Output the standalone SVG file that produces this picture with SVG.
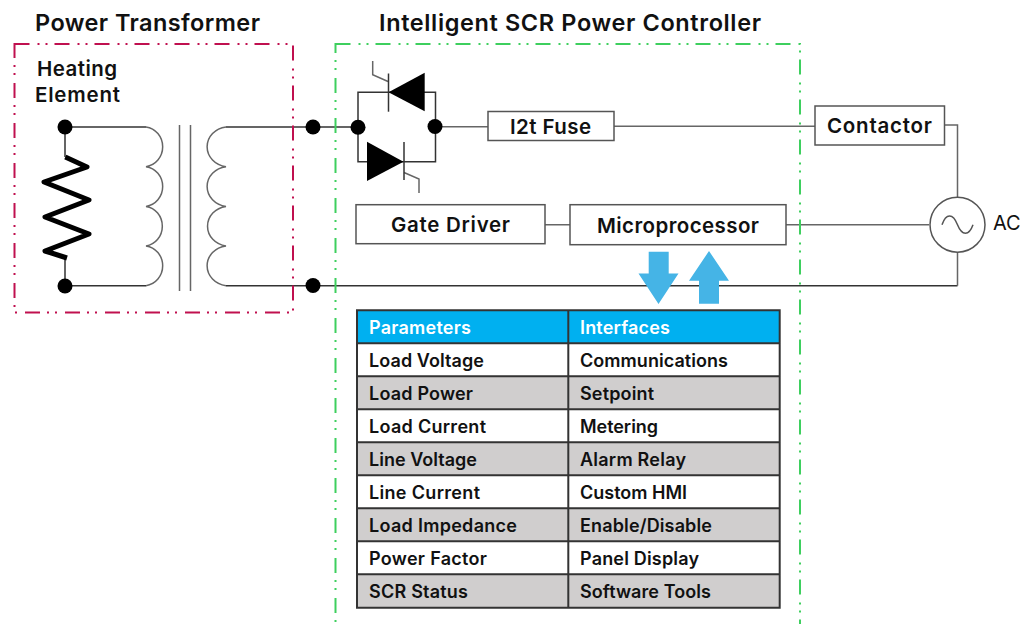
<svg xmlns="http://www.w3.org/2000/svg" width="1032" height="624" viewBox="0 0 1032 624">
<style>
text{font-family:Inter,"Liberation Sans",Arial,sans-serif;font-weight:600;fill:#111}
.t{font-size:23.5px}
.n{font-size:20.5px}
.c{font-size:18px}
.h{fill:#fff}
.w{fill:none;stroke:#333;stroke-width:1.5}
.g{fill:none;stroke:#666;stroke-width:1.5}
.b{fill:#fff;stroke:#555;stroke-width:1.5}
.d{fill:#000}
.ar{fill:#45b4e6}
.grid{fill:none;stroke:#333;stroke-width:2}
</style>
<rect width="1032" height="624" fill="#fff"/>
<g id="connectors">
<path class="w" d="M65 127H146"/>
<path class="g" d="M146 127A19 20 0 0 1 146 166.7A19 20 0 0 1 146 206.4A19 20 0 0 1 146 246A19 20 0 0 1 146 285.7"/>
<path class="w" d="M146 285.7H65V258M65 157V127"/>
<path class="g" d="M179.500 125V291M190.500 125V291" stroke-width="1.2"/>
<path class="g" d="M226 127A21.500 20 0 0 0 226 166.7A21.500 20 0 0 0 226 206.4A21.500 20 0 0 0 226 246A21.500 20 0 0 0 226 285.7"/>
<path class="w" d="M226 127H358M226 285.700H957.500"/>
<path class="g" d="M957.500 285.700V252M957.500 197V125H944M435 126.700H488M614 126.300H815M545 224.700H570M786 224.700H929"/>
<path class="w" d="M358 127V92.300H435.500V161.700H358V127"/>
<path class="g" d="M388 81.500L372.700 74.700V61M404 172.500L419 179V193"/>
</g>
<g id="power-transformer">
<rect x="14.500" y="44" width="278.500" height="268.500" fill="none" stroke="#c0104f" stroke-width="2" stroke-dasharray="15 8 2 6 2 7"/>
<text class="t" x="35" y="31" textLength="225">Power Transformer</text>
<text class="n" x="37" y="76" textLength="80">Heating</text>
<text class="n" x="35" y="102" textLength="85">Element</text>
</g>
<g id="heating-element">
<path d="M65.300 157L87 167L44 182L89 200L45 217L89 234L45 251L67 258" fill="none" stroke="#000" stroke-width="5" stroke-linejoin="round"/>
<circle class="d" cx="65" cy="127" r="7.500"/>
<circle class="d" cx="65" cy="286" r="7.500"/>
</g>
<g id="junctions">
<circle class="d" cx="313" cy="127" r="7.500"/>
<circle class="d" cx="313" cy="285.500" r="7.500"/>
<circle class="d" cx="358" cy="127.300" r="7.500"/>
<circle class="d" cx="435" cy="126.500" r="7.500"/>
</g>
<g id="scr-controller">
<rect x="335.500" y="44" width="464.500" height="600" fill="none" stroke="#3ecf5e" stroke-width="2" stroke-dasharray="15 8 2 6 2 7"/>
<text class="t" x="379" y="31" textLength="382">Intelligent SCR Power Controller</text>
</g>
<g id="scr-top">
<path class="d" d="M388.500 92.300L424.700 72.700V111.300Z"/>
<path class="w" d="M388.500 73.500V111.700"/>
</g>
<g id="scr-bottom">
<path class="d" d="M367 141.700L403.500 161.700L367 181Z"/>
<path class="w" d="M404 142V180"/>
</g>
<g id="fuse">
<rect class="b" x="488" y="111.500" width="126" height="29"/>
<text class="n" x="510" y="134" textLength="81">I2t Fuse</text>
</g>
<g id="contactor">
<rect class="b" x="815" y="106" width="129.500" height="39"/>
<text class="n" x="827" y="133" textLength="105">Contactor</text>
</g>
<g id="gate-driver">
<rect class="b" x="356" y="204.700" width="189" height="39"/>
<text class="n" x="391" y="231.500" textLength="119">Gate Driver</text>
</g>
<g id="microprocessor">
<rect class="b" x="570" y="204.700" width="216" height="40"/>
<text class="n" x="597" y="232.500" textLength="162">Microprocessor</text>
</g>
<g id="ac-source">
<circle cx="957.500" cy="224.700" r="27.500" fill="#fff" stroke="#555" stroke-width="1.500"/>
<path d="M942 224.700C946 213 953 213 957.500 224.700C962 236 969 236 973 224.700" fill="none" stroke="#555" stroke-width="1.500"/>
<text x="993" y="230" style="font-size:20px;font-weight:400">AC</text>
</g>
<g id="arrows">
<path class="ar" d="M648.700 251.700H668.700V273.500H678.500L658.500 304L638.500 273.500H648.700Z"/>
<path class="ar" d="M699 303.700V280.700H689L709 251L729 280.700H719V303.700Z"/>
</g>
<g id="table">
<rect x="357" y="310.300" width="422.700" height="33" fill="#00b0f0"/>
<rect x="357" y="376.300" width="422.700" height="33" fill="#d0cece"/>
<rect x="357" y="442.300" width="422.700" height="33" fill="#d0cece"/>
<rect x="357" y="508.300" width="422.700" height="33" fill="#d0cece"/>
<rect x="357" y="574.300" width="422.700" height="33.400" fill="#d0cece"/>
<path class="grid" d="M357 310.300H779.700V607.700H357ZM568.300 310.300V607.700M357 343.300H779.700M357 376.300H779.700M357 409.300H779.700M357 442.300H779.700M357 475.300H779.700M357 508.300H779.700M357 541.300H779.700M357 574.300H779.700"/>
<text class="c h" x="369" y="333.500" textLength="102">Parameters</text><text class="c h" x="580" y="333.500" textLength="90">Interfaces</text>
<text class="c" x="369" y="367" textLength="115">Load Voltage</text><text class="c" x="580" y="367" textLength="148">Communications</text>
<text class="c" x="369" y="399.500" textLength="104">Load Power</text><text class="c" x="580" y="399.500" textLength="74">Setpoint</text>
<text class="c" x="369" y="433" textLength="117">Load Current</text><text class="c" x="580" y="433" textLength="78">Metering</text>
<text class="c" x="369" y="465.500" textLength="108">Line Voltage</text><text class="c" x="580" y="465.500" textLength="106">Alarm Relay</text>
<text class="c" x="369" y="499" textLength="111">Line Current</text><text class="c" x="580" y="499" textLength="107">Custom HMI</text>
<text class="c" x="369" y="531.500" textLength="148">Load Impedance</text><text class="c" x="580" y="531.500" textLength="132">Enable/Disable</text>
<text class="c" x="369" y="565" textLength="118">Power Factor</text><text class="c" x="580" y="565" textLength="119">Panel Display</text>
<text class="c" x="369" y="597.500" textLength="99">SCR Status</text><text class="c" x="580" y="597.500" textLength="131">Software Tools</text>
</g>
</svg>
